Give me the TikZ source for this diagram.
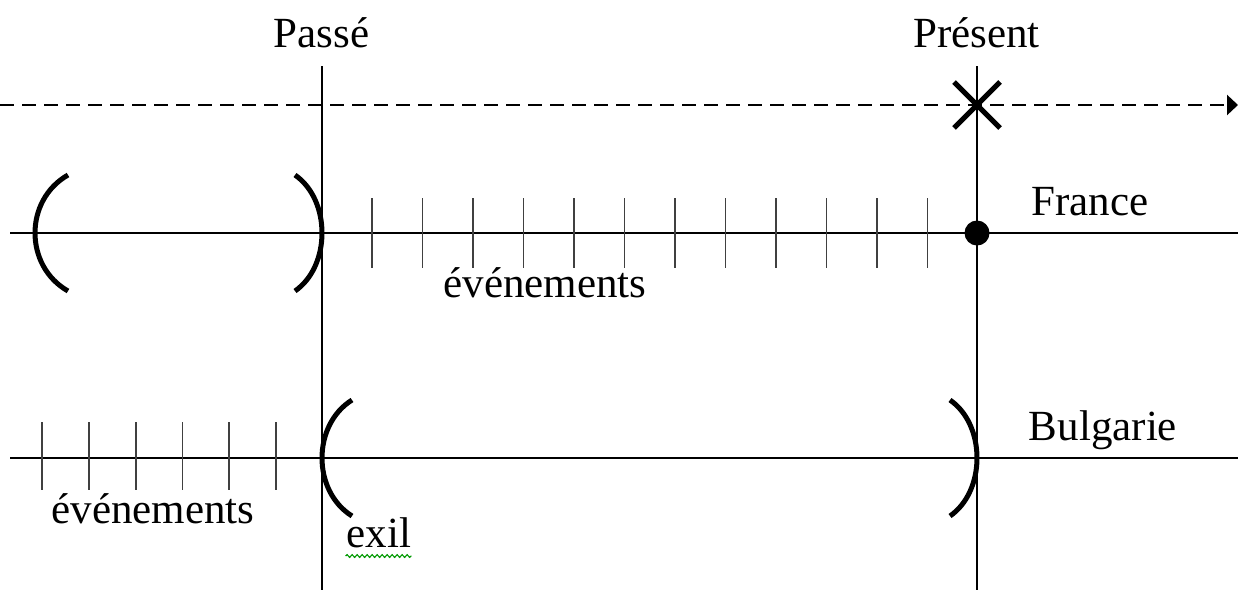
\documentclass[tikz,border=0pt]{standalone}
\usepackage{fontspec}
\setmainfont{Liberation Serif}
\usetikzlibrary{arrows.meta,decorations.pathmorphing,calc}
\begin{document}
\begin{tikzpicture}[x=1pt,y=-1pt,
  axis/.style={line width=2.6pt},
  bracket/.style={line width=5pt},
  tick/.style={line width=1.8pt,black!75},
  lbl/.style={inner sep=0pt,anchor=base,font=\fontsize{43}{48}\selectfont},
  timeline/.style={line width=2.4pt,dash pattern=on 14pt off 8pt,-{Triangle[length=11pt,width=20pt]}}]
\useasboundingbox (0,0) rectangle (1238,590);
% coordinates
\coordinate (pt) at (322,66);  \coordinate (pb) at (322,590);
\coordinate (nt) at (977,66);  \coordinate (nb) at (977,590);
\coordinate (ds) at (0,105);   \coordinate (de) at (1238,105);
\coordinate (fl) at (10,233);  \coordinate (fr) at (1238,233);
\coordinate (bl) at (10,458);  \coordinate (br) at (1238,458);
\coordinate (xm) at (977,105);
% vertical lines
\draw[axis] (pt) -- (pb);
\draw[axis] (nt) -- (nb);
% horizontal lines
\draw[axis] (fl) -- (fr);
\draw[axis] (bl) -- (br);
\draw[timeline] (ds) -- (de);
% X mark
\draw[line width=5pt] ($(xm)+(-23,-23)$) -- ($(xm)+(23,23)$);
\draw[line width=5pt] ($(xm)+(-23,23)$) -- ($(xm)+(23,-23)$);
% dot
\fill (977,233) circle (12.5);
% brackets France
\draw[bracket] (68,175) .. controls (24,200) and (24,266) .. (68,291);
\draw[bracket] (295,175) .. controls (331,200) and (331,266) .. (295,291);
% brackets Bulgarie
\draw[bracket] (352,400) .. controls (312,425) and (312,491) .. (352,516);
\draw[bracket] (950,400) .. controls (986,425) and (986,491) .. (950,516);
% ticks France
\foreach \i in {0,...,11}{
  \draw[tick] ({372+50.5*\i},198) -- ({372+50.5*\i},268);
}
% ticks Bulgarie
\foreach \i in {0,...,5}{
  \draw[tick] ({42+46.8*\i},422) -- ({42+46.8*\i},490);
}
% labels
\node[lbl] (passe) at (321.5,47) {Passé};
\node[lbl] (present) at (976.5,47) {Présent};
\node[lbl] (france) at (1090,215) {France};
\node[lbl] (ev1) at (545,297) {événements};
\node[lbl] (bulg) at (1103,440) {Bulgarie};
\node[lbl] (ev2) at (153,523) {événements};
\node[lbl] (exil) at (379,547) {exil};
\draw[green!60!black,line width=1.2pt,decorate,decoration={snake,amplitude=1.3pt,segment length=5pt}]
  ($(exil.base west)+(-1,9)$) -- ($(exil.base east)+(0,9)$);
\end{tikzpicture}
\end{document}
